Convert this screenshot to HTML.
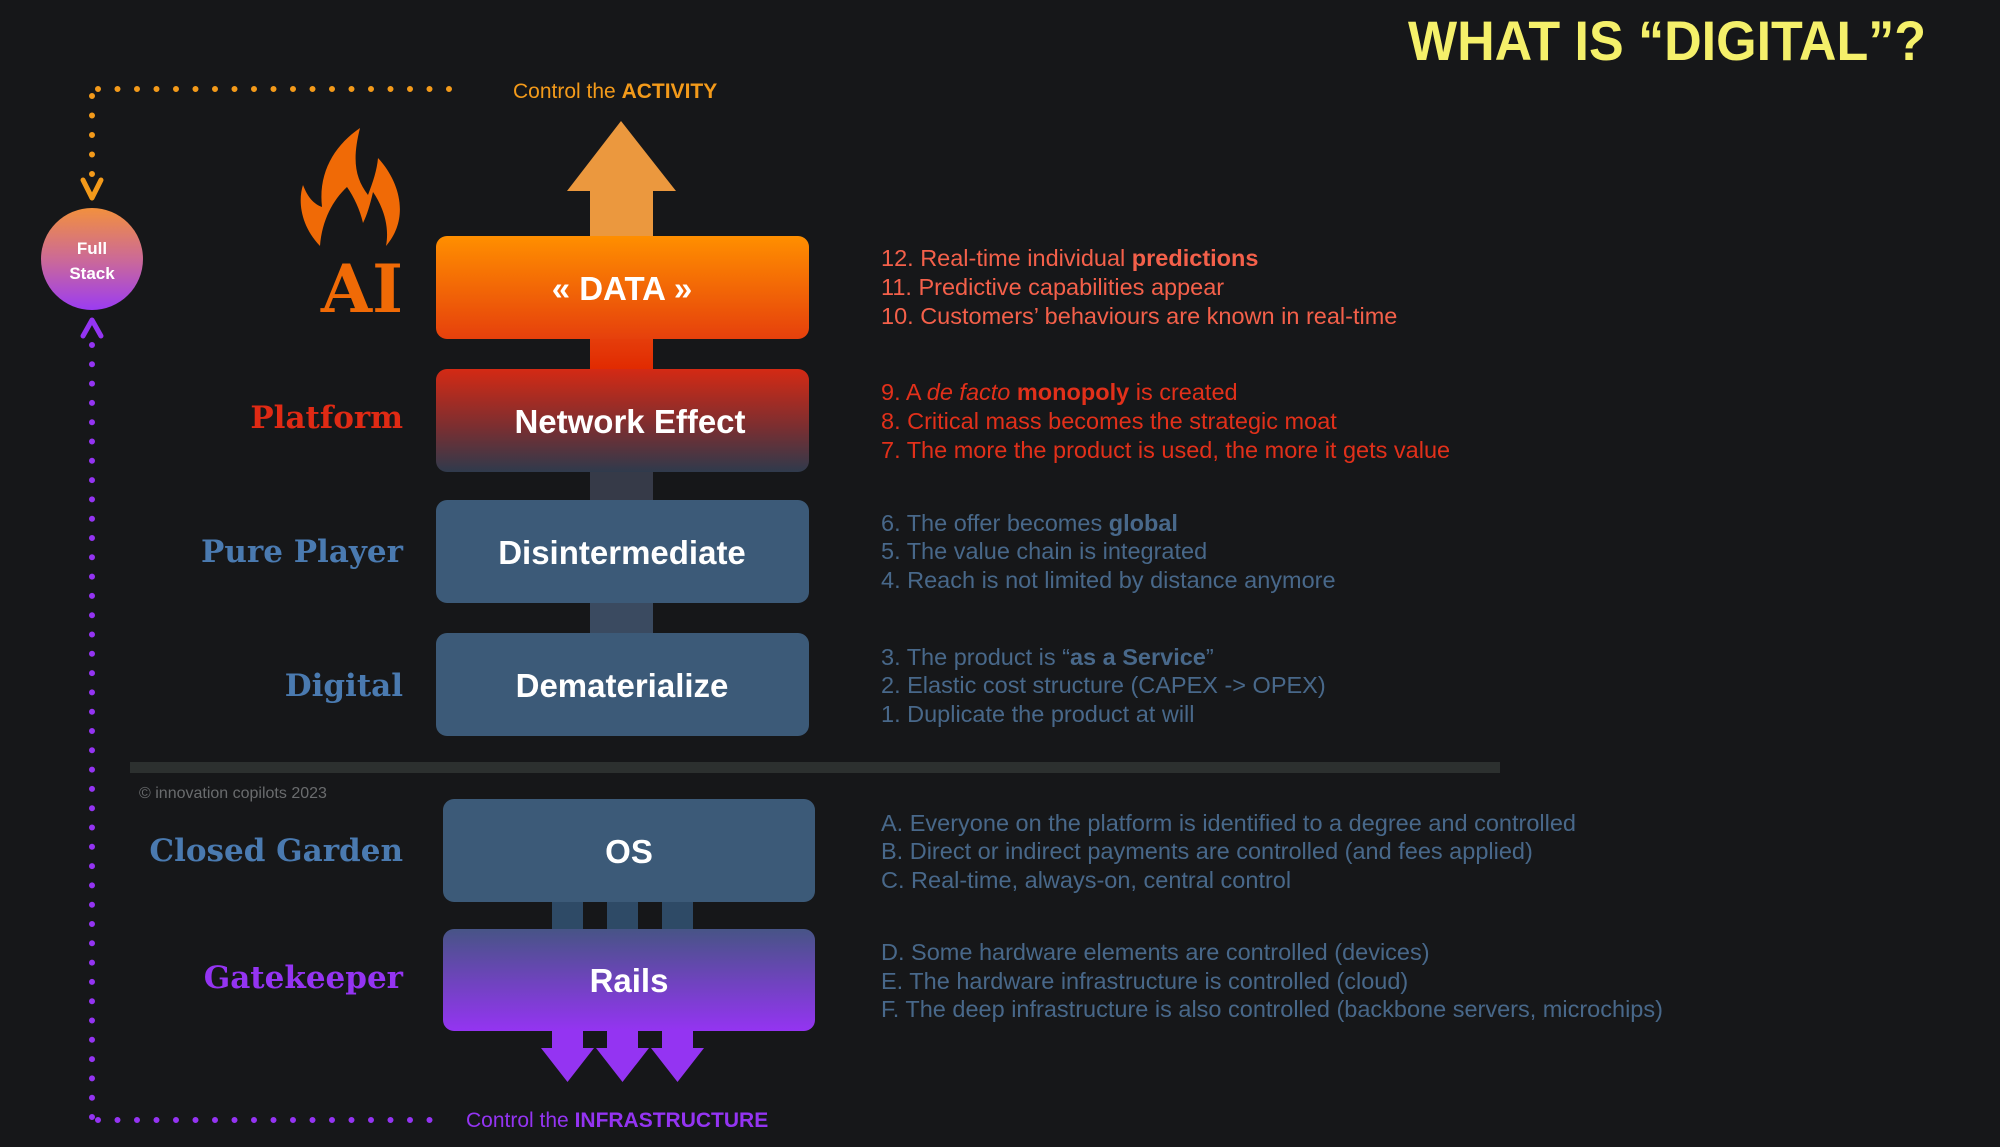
<!DOCTYPE html>
<html><head><meta charset="utf-8"><style>
html,body{margin:0;padding:0;background:#161719;}
svg{display:block}
.r{font-family:"Liberation Sans",sans-serif;font-size:23.5px}
.lab{font-family:"DejaVu Serif",serif;font-weight:900;font-size:31px;text-anchor:end}
.bx{font-family:"Liberation Sans",sans-serif;font-weight:bold;font-size:33px;fill:#fff;text-anchor:middle}
</style></head><body>
<svg width="2000" height="1147" viewBox="0 0 2000 1147" xmlns="http://www.w3.org/2000/svg">
<defs>
<linearGradient id="gData" x1="0" y1="0" x2="0" y2="1"><stop offset="0" stop-color="#ff8f00"/><stop offset="1" stop-color="#e6400c"/></linearGradient>
<linearGradient id="gCon1" x1="0" y1="0" x2="0" y2="1"><stop offset="0" stop-color="#e6400c"/><stop offset="1" stop-color="#e02800"/></linearGradient>
<linearGradient id="gNE" x1="0" y1="0" x2="0" y2="1"><stop offset="0" stop-color="#d42a14"/><stop offset="0.55" stop-color="#7d2e30"/><stop offset="1" stop-color="#2f3a4c"/></linearGradient>
<linearGradient id="gRails" x1="0" y1="0" x2="0" y2="1"><stop offset="0" stop-color="#475486"/><stop offset="1" stop-color="#9434f2"/></linearGradient>
<linearGradient id="gCirc" x1="0" y1="0" x2="0" y2="1"><stop offset="0" stop-color="#f2903e"/><stop offset="0.5" stop-color="#cc6a96"/><stop offset="1" stop-color="#9b3cf2"/></linearGradient>
</defs>

<text x="1926" y="60" text-anchor="end" textLength="518" lengthAdjust="spacingAndGlyphs" font-family="Liberation Sans,sans-serif" font-weight="bold" font-size="56" fill="#f5f06a">WHAT IS “DIGITAL”?</text>

<path d="M98 89 H462" stroke="#f39a1a" stroke-width="6" stroke-linecap="round" stroke-dasharray="0 19.5" fill="none"/>
<path d="M92 96 V175" stroke="#f39a1a" stroke-width="6" stroke-linecap="round" stroke-dasharray="0 19.5" fill="none"/>
<path d="M83 180 L92 198 L101 180" stroke="#f39a1a" stroke-width="5" fill="none" stroke-linecap="round" stroke-linejoin="round"/>
<path d="M92 345 V1117" stroke="#9434f2" stroke-width="6" stroke-linecap="round" stroke-dasharray="0 19.3" fill="none"/>
<path d="M98 1120 H431" stroke="#9434f2" stroke-width="6" stroke-linecap="round" stroke-dasharray="0 19.5" fill="none"/>
<path d="M83 336 L92 320 L101 336" stroke="#9434f2" stroke-width="5" fill="none" stroke-linecap="round" stroke-linejoin="round"/>

<circle cx="92" cy="259" r="51" fill="url(#gCirc)"/>
<text x="92" y="254" text-anchor="middle" font-family="Liberation Sans,sans-serif" font-weight="bold" font-size="17" fill="#fff">Full</text>
<text x="92" y="279" text-anchor="middle" font-family="Liberation Sans,sans-serif" font-weight="bold" font-size="17" fill="#fff">Stack</text>

<text x="513" y="98" class="r" style="font-size:21px" fill="#f39a1a">Control the <tspan font-weight="bold">ACTIVITY</tspan></text>
<text x="466" y="1127" class="r" style="font-size:21px" fill="#9434f2">Control the <tspan font-weight="bold">INFRASTRUCTURE</tspan></text>

<path d="M621 121 L676 191 L653 191 L653 240 L590 240 L590 191 L567 191 Z" fill="#eb983e"/>

<rect x="590" y="335" width="63" height="38" fill="url(#gCon1)"/>
<rect x="590" y="468" width="63" height="36" fill="#363a48"/>
<rect x="590" y="600" width="63" height="36" fill="#3a4a60"/>
<rect x="552" y="898" width="31" height="34" fill="#2e4a66"/>
<rect x="607" y="898" width="31" height="34" fill="#2e4a66"/>
<rect x="662" y="898" width="31" height="34" fill="#2e4a66"/>

<rect x="436" y="236" width="373" height="103" rx="11" fill="url(#gData)"/>
<text x="622" y="300" class="bx">« DATA »</text>
<rect x="436" y="369" width="373" height="103" rx="11" fill="url(#gNE)"/>
<text x="630" y="433" class="bx">Network Effect</text>
<rect x="436" y="500" width="373" height="103" rx="11" fill="#3c5a78"/>
<text x="622" y="564" class="bx">Disintermediate</text>
<rect x="436" y="633" width="373" height="103" rx="11" fill="#3c5a78"/>
<text x="622" y="697" class="bx">Dematerialize</text>

<rect x="130" y="762" width="1370" height="11" fill="#2c302f"/>
<text x="139" y="798" font-family="Liberation Sans,sans-serif" font-size="16" fill="#6a6c6e">© innovation copilots 2023</text>

<rect x="443" y="799" width="372" height="103" rx="11" fill="#3c5a78"/>
<text x="629" y="863" class="bx">OS</text>
<rect x="443" y="929" width="372" height="102" rx="11" fill="url(#gRails)"/>
<text x="629" y="992" class="bx">Rails</text>

<g fill="#9434f2">
<path d="M552 1030 H583 V1048 H594 L567.5 1082 L541 1048 H552 Z"/>
<path d="M607 1030 H638 V1048 H649 L622.5 1082 L596 1048 H607 Z"/>
<path d="M662 1030 H693 V1048 H704 L677.5 1082 L651 1048 H662 Z"/>
</g>

<path d="M320 246 C300 225 298 200 303 185 C308 198 314 204 322 207 C318 172 335 145 360 128 C352 160 355 178 368 195 C373 182 377 170 378 158 C400 182 410 218 386 246 C390 225 382 205 373 192 C370 205 367 215 363 223 C360 210 354 197 347 187 C333 200 322 220 320 246 Z" fill="#f06a06"/>
<text x="403" y="312" class="lab" style="font-size:66px" fill="#f06a06">AI</text>

<text x="403" y="428" class="lab" fill="#e02a14">Platform</text>
<text x="403" y="562" class="lab" fill="#4a7ab0">Pure Player</text>
<text x="403" y="696" class="lab" fill="#4a7ab0">Digital</text>
<text x="403" y="861" class="lab" fill="#4a7ab0">Closed Garden</text>
<text x="403" y="988" class="lab" fill="#9434f2">Gatekeeper</text>

<g class="r">
<text x="881" y="266" fill="#f4604a">12. Real-time individual <tspan font-weight="bold">predictions</tspan></text>
<text x="881" y="295" fill="#f4604a">11. Predictive capabilities appear</text>
<text x="881" y="324" fill="#f4604a">10. Customers’ behaviours are known in real-time</text>
<text x="881" y="400" fill="#e2301a">9. A <tspan font-style="italic">de facto</tspan> <tspan font-weight="bold">monopoly</tspan> is created</text>
<text x="881" y="429" fill="#e2301a">8. Critical mass becomes the strategic moat</text>
<text x="881" y="458" fill="#e2301a">7. The more the product is used, the more it gets value</text>
<text x="881" y="531" fill="#48688a">6. The offer becomes <tspan font-weight="bold">global</tspan></text>
<text x="881" y="559" fill="#48688a">5. The value chain is integrated</text>
<text x="881" y="588" fill="#48688a">4. Reach is not limited by distance anymore</text>
<text x="881" y="665" fill="#48688a">3. The product is “<tspan font-weight="bold">as a Service</tspan>”</text>
<text x="881" y="693" fill="#48688a">2. Elastic cost structure (CAPEX -&gt; OPEX)</text>
<text x="881" y="722" fill="#48688a">1. Duplicate the product at will</text>
<text x="881" y="831" fill="#48688a">A. Everyone on the platform is identified to a degree and controlled</text>
<text x="881" y="859" fill="#48688a">B. Direct or indirect payments are controlled (and fees applied)</text>
<text x="881" y="888" fill="#48688a">C. Real-time, always-on, central control</text>
<text x="881" y="960" fill="#48688a">D. Some hardware elements are controlled (devices)</text>
<text x="881" y="989" fill="#48688a">E. The hardware infrastructure is controlled (cloud)</text>
<text x="881" y="1017" fill="#48688a">F. The deep infrastructure is also controlled (backbone servers, microchips)</text>
</g>
</svg>
</body></html>
